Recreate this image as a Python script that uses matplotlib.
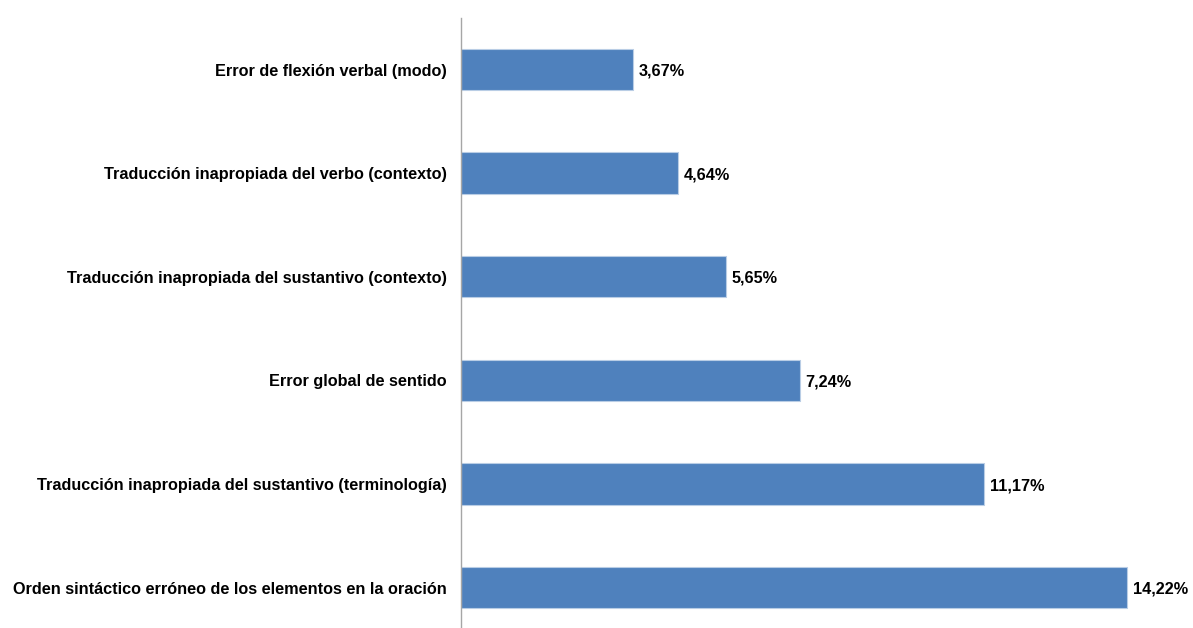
import matplotlib.pyplot as plt

categories = [
    'Orden sintáctico erróneo de los elementos en la oración',
    'Traducción inapropiada del sustantivo (terminología)',
    'Error global de sentido',
    'Traducción inapropiada del sustantivo (contexto)',
    'Traducción inapropiada del verbo (contexto)',
    'Error de flexión verbal (modo)',
]
values = [14.22, 11.17, 7.24, 5.65, 4.64, 3.67]
value_labels = ['14,22%', '11,17%', '7,24%', '5,65%', '4,64%', '3,67%']

plt.rcParams['font.family'] = ['Liberation Sans', 'DejaVu Sans']

fig = plt.figure(figsize=(11.93, 6.28), dpi=100)
ax = fig.add_axes([461 / 1193, 0, 1 - 461 / 1193, 1 - 17.7 / 628])

pos = list(range(len(categories)))
ax.barh(pos, values, height=0.4, color='#4F81BD', edgecolor='#B9CDE5', linewidth=0.8)

# value labels just right of each bar
for p, v, lab in zip(pos, values, value_labels):
    ax.text(v + 0.12, p - 0.015, lab, va='center', ha='left', fontsize=11.7, fontweight='bold', color='black')

ax.set_yticks(pos)
ax.set_yticklabels(categories, fontsize=11.7, fontweight='bold')
ax.tick_params(axis='y', length=0, pad=10.5)
ax.set_xticks([])
ax.set_xlim(0, 732 / 46.84)
ax.set_ylim(-0.39, 5.5)

for s in ['top', 'right', 'bottom']:
    ax.spines[s].set_visible(False)
ax.spines['left'].set_color('#A6A6A6')
ax.spines['left'].set_linewidth(1)

fig.savefig('out.png', dpi=100)
